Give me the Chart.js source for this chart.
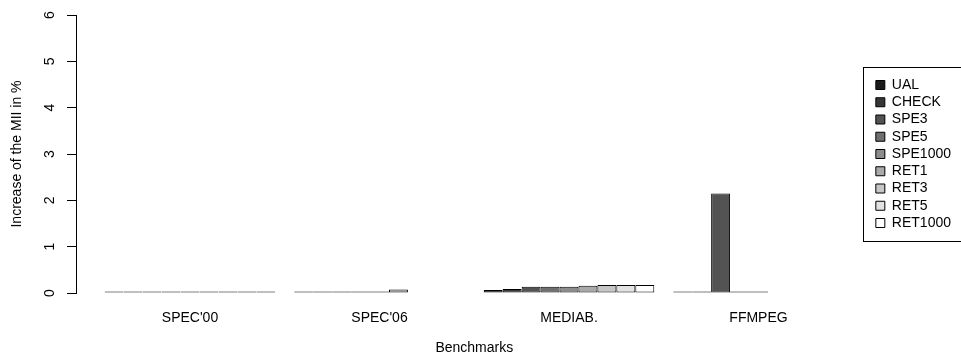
<!DOCTYPE html>
<html>
<head>
<meta charset="utf-8">
<script src="https://cdn.jsdelivr.net/npm/chart.js@4/dist/chart.umd.min.js"></script>
<style>
  body { margin: 0; background: #fff; }
  #wrap { width: 961px; height: 363px; }
</style>
</head>
<body>
<div id="wrap"><canvas id="chart"></canvas></div>
<script>
// benchmarks on the x axis
const benchmarks = ["SPEC'00", "SPEC'06", "MEDIAB.", "FFMPEG"]
const configs = ["UAL", "CHECK", "SPE3", "SPE5", "SPE1000", "RET1", "RET3", "RET5", "RET1000"]

// increase of the MII in %, one array per configuration (null = no bar)
const ual     = [0.02, 0.005, 0.065, 0.005]
const check   = [0.02, 0.005, 0.085, 0.005]
const spe3    = [0.01, 0,     0.135, 2.15]
const spe5    = [0.01, 0,     0.135, 0]
const spe1000 = [0.01, 0,     0.135, 0]
const ret1    = [0.01, 0.075, 0.155, null]
const ret3    = [0,    null,  0.175, null]
const ret5    = [0,    null,  0.175, null]
const ret1000 = [0,    null,  0.175, null]

const yTicks = [0, 1, 2, 3, 4, 5, 6]

const series = [ual, check, spe3, spe5, spe1000, ret1, ret3, ret5, ret1000]
const greys = ["#1a1a1a", "#363636", "#535353", "#6f6f6f", "#8c8c8c", "#a9a9a9", "#c6c6c6", "#e2e2e2", "#ffffff"]

const font = { family: "'Liberation Sans', Arial, Helvetica, sans-serif", size: 14 }

// R leaves one bar width between groups, so the first group sits a bit away from the axis
const groupPx = 189.5
const firstOffset = 114

const datasets = series.map((vals, k) => ({
    label: configs[k],
    data: vals.map((v, i) => ({ x: i, y: v })),
    backgroundColor: greys[k],
    borderColor: "#000",
    borderWidth: 1,
    borderSkipped: false,
    minBarLength: 1.5,
    categoryPercentage: 0.9,
    barPercentage: 1.0
}))

// box around the legend, like R's legend()
const legendBox = {
    id: "legendBox",
    afterDraw(chart) {
        const hb = chart.legend.legendHitBoxes
        if (!hb || !hb.length) return
        const ctx = chart.ctx
        const top = hb[0].top - 11
        const bottom = hb[hb.length - 1].top + hb[hb.length - 1].height + 11
        const left = hb[0].left - 13
        ctx.save()
        ctx.strokeStyle = "#000"
        ctx.lineWidth = 1
        ctx.strokeRect(Math.round(left) + 0.5, Math.round(top) + 0.5, 970 - left, Math.round(bottom - top))
        ctx.restore()
    }
}

new Chart(document.getElementById("chart"), {
    type: "bar",
    data: { datasets: datasets },
    plugins: [legendBox],
    options: {
        responsive: true,
        maintainAspectRatio: false,
        animation: false,
        layout: { padding: { left: 0, right: 0, top: 15, bottom: 0 } },
        plugins: {
            tooltip: { enabled: false },
            legend: {
                position: "right",
                fullSize: false,
                align: "center",
                labels: {
                    boxWidth: 9,
                    boxHeight: 9,
                    padding: 3.25,
                    color: "#000",
                    font: font
                }
            }
        },
        scales: {
            x: {
                type: "linear",
                bounds: "data",
                offset: false,
                afterDataLimits(s) {
                    s.min = -firstOffset / groupPx
                    s.max = s.min + s.width / groupPx
                },
                afterBuildTicks(s) {
                    s.ticks = benchmarks.map((b, i) => ({ value: i }))
                },
                afterFit(s) { s.height = 70 },
                grid: { display: false, drawTicks: false },
                border: { display: false },
                ticks: {
                    autoSkip: false,
                    maxRotation: 0,
                    padding: 17,
                    color: "#000",
                    font: font,
                    callback: v => benchmarks[v]
                },
                title: {
                    display: true,
                    text: "Benchmarks",
                    color: "#000",
                    font: font,
                    padding: { top: 0, bottom: 6 }
                }
            },
            y: {
                min: 0,
                max: 6,
                afterBuildTicks(s) {
                    s.ticks = yTicks.map(v => ({ value: v }))
                },
                afterFit(s) {
                    s.width = 76
                    s.paddingTop = 0
                    s.paddingBottom = 0
                },
                grid: { drawOnChartArea: false, drawTicks: true, tickLength: 9, color: "#000" },
                border: { display: true, color: "#000", width: 1 },
                ticks: {
                    minRotation: 90,
                    maxRotation: 90,
                    crossAlign: "center",
                    padding: 13,
                    color: "#000",
                    font: font
                },
                title: {
                    display: true,
                    text: "Increase of the MII in %",
                    color: "#000",
                    font: font,
                    padding: { top: 9, bottom: 0 }
                }
            }
        }
    }
})
</script>
</body>
</html>
